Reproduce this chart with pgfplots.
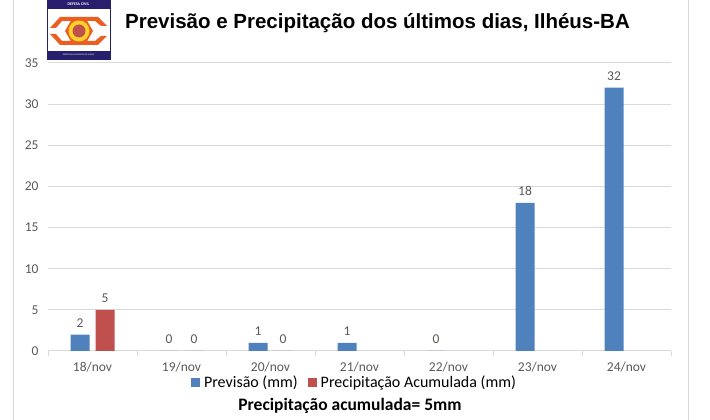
\documentclass[border=0pt]{standalone}
\usepackage{fontspec}
\setmainfont{Carlito}
\newfontfamily\titlefont{Liberation Sans}
\usepackage{pgfplots}
\pgfplotsset{compat=1.18}
\definecolor{cblue}{RGB}{79,129,189}
\definecolor{cred}{RGB}{192,80,77}
\definecolor{tickgray}{RGB}{89,89,89}
\definecolor{gridgray}{RGB}{217,217,217}
\definecolor{navy}{RGB}{40,30,110}
\definecolor{logoorange}{RGB}{235,95,35}
\definecolor{logoyellow}{RGB}{250,210,40}
\begin{document}
\begin{tikzpicture}[x=1pt,y=1pt]
\path[use as bounding box] (0,0) rectangle (710,420);
\draw[gridgray, line width=1pt] (13,0) -- (13,420);
\draw[gridgray, line width=1pt] (688,0) -- (688,420);
\begin{axis}[
  at={(48pt,69pt)}, anchor=south west,
  scale only axis, width=623pt, height=288pt,
  xmin=-0.5, xmax=6.5, ymin=0, ymax=35,
  ybar, bar width=19pt,
  ytick={0,5,...,35},
  xtick={0,...,6},
  xticklabels={18/nov,19/nov,20/nov,21/nov,22/nov,23/nov,24/nov},
  minor xtick={-0.5,0.5,...,6.5},
  major tick length=0pt, minor tick length=5pt,
  tick align=outside,
  every minor tick/.style={draw=gridgray, line width=0.8pt},
  axis x line*=bottom, axis y line*=left,
  y axis line style={draw=none},
  x axis line style={draw=gridgray, line width=1pt, -},
  ymajorgrids, grid style={draw=gridgray, line width=1pt},
  /pgf/number format/assume math mode=true,
  ticklabel style={font=\fontsize{13.5}{15}\selectfont, text=tickgray},
  xticklabel style={yshift=-8pt},
  yticklabel style={xshift=-6pt},
  nodes near coords,
  every node near coord/.append style={font=\fontsize{13.5}{15}\selectfont, text=tickgray, yshift=4pt},
  legend style={at={(0.492,-0.108)}, anchor=center, draw=none, fill=none,
    legend columns=2, font=\fontsize{16}{18}\selectfont,
    /tikz/every even column/.append style={column sep=8pt}},
  legend image code/.code={\fill[#1] (0pt,-4.5pt) rectangle (9pt,4.5pt); \path (0pt,0pt) -- (11pt,0pt);},
]
\addplot[fill=cblue, draw=none, bar shift=-12.5pt] coordinates {(0,2) (1,0) (2,1) (3,1) (4,0) (5,18) (6,32)};
\addplot[fill=cred, draw=none, bar shift=12.5pt] coordinates {(0,5) (1,0) (2,0)};
\legend{Previsão (mm), Precipitação Acumulada (mm)}
\end{axis}
% title
\node at (377.5,397) {\titlefont\bfseries\fontsize{20.5}{24}\selectfont Previsão e Precipitação dos últimos dias, Ilhéus-BA};
% bottom note
\node at (350,14) {\bfseries\fontsize{17.5}{20}\selectfont Precipitação acumulada= 5mm};
% logo
\fill[white] (47,361) rectangle (110,420);
\fill[navy] (47,411) rectangle (110,420);
\fill[navy] (47,361) rectangle (110,369);
\draw[navy, line width=0.8pt] (47,361) rectangle (110,420);
\node[text=white, font=\fontsize{4}{4}\selectfont\bfseries] at (78.5,415.5) {DEFESA CIVIL};
\node[text=white, font=\fontsize{2.2}{2.2}\selectfont] at (78.5,365) {PREFEITURA MUNICIPAL DE ILHÉUS};
\fill[logoorange] (50,392) -- (60,403) -- (98,403) -- (107,394) -- (101,394) -- (95,399) -- (62,399) -- (56,392) -- cycle;
\fill[logoorange] (50,386) -- (60,375) -- (98,375) -- (107,384) -- (101,384) -- (95,379) -- (62,379) -- (56,386) -- cycle;
\fill[logoorange] (79,389) +(0:14) -- +(60:14) -- +(120:14) -- +(180:14) -- +(240:14) -- +(300:14) -- cycle;
\fill[logoyellow] (79,389) circle (10.5);
\fill[cred] (79,389) circle (6.5);
\end{tikzpicture}
\end{document}
